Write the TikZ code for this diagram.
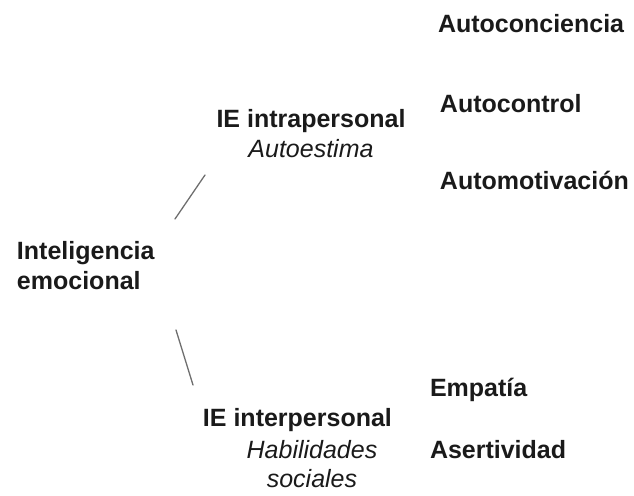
\documentclass[tikz,border=0pt]{standalone}
\usepackage{fontspec}
\setmainfont{Liberation Sans}
\definecolor{textgray}{HTML}{1A1A1A}
\definecolor{linegray}{HTML}{6E6E6E}
\begin{document}
\begin{tikzpicture}[x=0.5pt,y=-0.5pt,line cap=round,font=\fontsize{12.5}{15}\selectfont]
            \tikzset{every node/.style={inner sep=0pt,outer sep=0pt,text=textgray},
                     term/.style={font=\fontsize{12.5}{15}\selectfont\bfseries,anchor=base west},
                     branch/.style={draw=linegray,line width=0.65pt}}
            \useasboundingbox (0,0) rectangle (634,496);
            % root (base = last line)
            \node[term,align=left] (root) at (17,290) {Inteligencia\\emocional};
            % intrapersonal side
            \node[anchor=base,align=center] (intra) at (311,158) {\textbf{IE intrapersonal}\\\textit{Autoestima}};
            \node[term] (conciencia) at (438,33) {Autoconciencia};
            \node[term] (control) at (440,113) {Autocontrol};
            \node[term] (motivacion) at (440,190) {Automotivación};
            % interpersonal side
            \node[term] (inter) at (203,427) {IE interpersonal};
            \node[anchor=base,align=center,font=\fontsize{12.5}{14.5}\selectfont\itshape] (intersub) at (312,488) {Habilidades\\sociales};
            \node[term] (empatia) at (430,397) {Empatía};
            \node[term] (asertividad) at (430,459) {Asertividad};
            % branches
            \coordinate (up-a) at (175,219);
            \coordinate (up-b) at (205,175);
            \coordinate (dn-a) at (176,330);
            \coordinate (dn-b) at (193,385);
            \draw[branch] (up-a)--(up-b);
            \draw[branch] (dn-a)--(dn-b);
        \end{tikzpicture}
\end{document}
